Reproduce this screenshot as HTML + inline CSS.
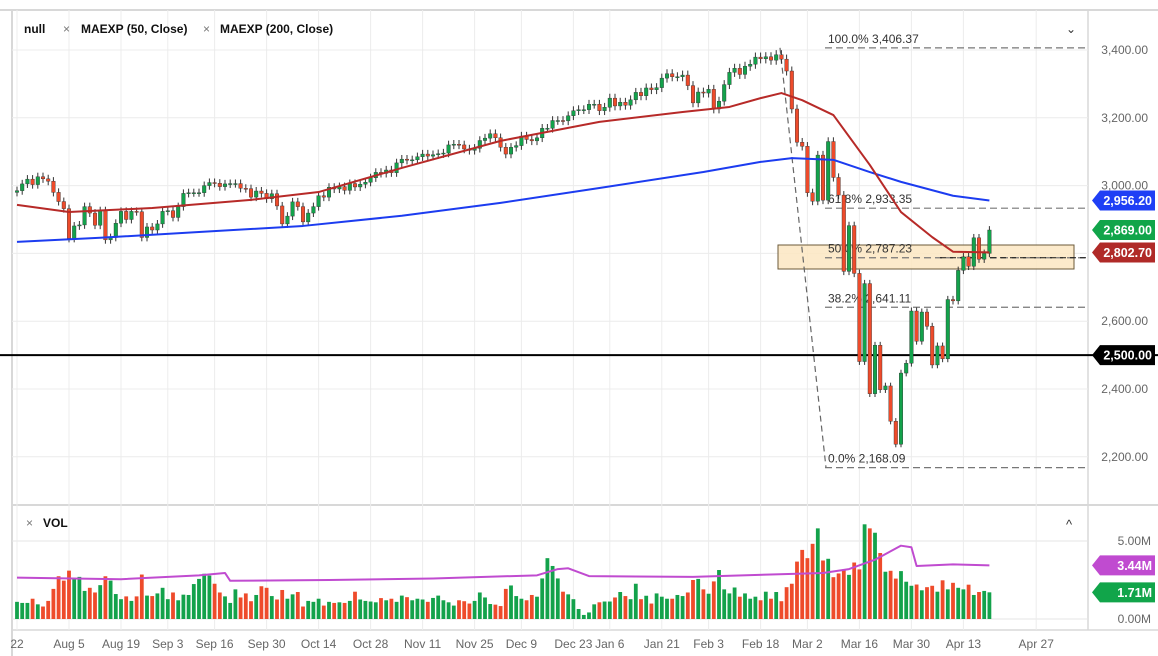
<!DOCTYPE html>
<html><head><meta charset="utf-8">
<style>
body{margin:0;background:#fff;font-family:"Liberation Sans",sans-serif;}
svg{display:block}
</style></head>
<body>
<svg id="chart" width="1158" height="656" xmlns="http://www.w3.org/2000/svg" font-family="Liberation Sans, sans-serif">
  <rect x="0" y="0" width="1158" height="656" fill="#fff"/>
  <g id="grid"></g>
  <g id="fib"></g>
  <g id="candles"></g>
  <g id="mas"></g>
  <g id="vol"></g>
  <g id="axes"></g>
  <g id="legend">
    <text x="24" y="33" font-size="12" font-weight="bold" fill="#111">null</text>
    <text x="63" y="33" font-size="12" fill="#777">×</text>
    <text x="81" y="33" font-size="12" font-weight="bold" fill="#111">MAEXP (50, Close)</text>
    <text x="203" y="33" font-size="12" fill="#777">×</text>
    <text x="220" y="33" font-size="12" font-weight="bold" fill="#111">MAEXP (200, Close)</text>
    <text x="1066" y="33" font-size="12" fill="#333">⌄</text>
    <text x="26" y="527" font-size="12" fill="#777">×</text>
    <text x="43" y="527" font-size="12" font-weight="bold" fill="#111">VOL</text>
    <text x="1066" y="529" font-size="13" fill="#333">^</text>
  </g>
</svg>
<script>
const closes=[2985,3005,3019,3003,3026, 3020,3013,2980,2953,2932, 2844,2881,2884,2938,2919, 2883,2926,2840,2847,2889,
2924,2900,2924,2923,2847, 2878,2869,2887,2924,2926, 2906,2938,2977,2979, 2979,2979,3000,3009,3007,
2997,3005,3006,3006,2992, 2991,2966,2984,2977,2961, 2976,2940,2887,2910,2952, 2938,2893,2919,2938,2970,
2966,2995,2990,2997,2986, 3006,2996,3004,3010,3023, 3039,3036,3046,3038,3067, 3078,3075,3076,3085,3093,
3087,3091,3094,3096,3120, 3122,3120,3108,3104,3110, 3133,3140,3153,3141, 3113,3093,3113,3118,3146,
3136,3132,3141,3169,3169, 3192,3192,3191,3206,3221, 3224,3224,3240,3240, 3221,3231,3258,3235,
3246,3237,3253,3275,3265, 3288,3283,3289,3317,3330, 3321,3321,3326,3295, 3244,3276,3273,3284,3226,
3249,3298,3334,3346,3328, 3352,3358,3379,3374,3380, 3370,3386,3373,3338, 3226,3128,3116,2979,2954,
3090,2957,3130,3024,2972, 2747,2882,2741,2481,2711, 2386,2529,2398,2409,2305, 2237,2447,2476,2630,2541,
2627,2585,2471,2527,2489, 2664,2660,2750,2790, 2762,2846,2783,2800,2869];
const volumes=[1.1,1.03,1.03,1.3,0.94,0.8,1.16,1.93,2.74,2.46,3.1,2.6,2.7,1.8,2.0,1.7,2.17,2.74,2.46,1.6,
1.27,1.45,1.16,1.45,2.85,1.5,1.47,1.64,2.0,1.27,1.7,1.2,1.56,1.54,2.24,2.57,2.9,2.78,2.26,1.7,
1.45,1.03,1.9,1.38,1.64,1.14,1.54,2.1,2.0,1.47,1.25,1.86,1.3,1.58,1.73,0.8,1.16,1.1,1.3,0.86,
1.1,1.03,1.07,1.03,1.16,1.75,1.25,1.16,1.12,1.07,1.34,
1.2,1.3,1.1,1.5,1.4,1.2,1.3,1.25,1.1,1.35,1.5,1.2,
1.07,0.86,1.2,1.14,0.99,1.16,1.7,1.38,0.96,
0.92,0.83,1.93,2.15,1.47,1.3,1.2,1.54,1.43,2.6,3.9,3.4,2.6,1.75,1.58,1.27,0.64,0.26,0.42,0.94,
1.07,1.12,1.12,1.38,1.73,1.47,1.27,2.26,1.27,1.49,0.99,1.64,
1.43,1.3,1.3,1.54,1.47,1.7,2.5,2.57,1.9,1.62,2.41,3.14,1.9,1.64,2.02,1.43,
1.64,1.3,1.43,1.2,1.75,1.3,1.73,1.14,2.04,2.26,3.68,4.43,3.9,4.82,5.81,3.75,3.86,2.68,2.92,3.18,
2.83,3.62,3.18,6.07,5.81,5.53,4.23,3.03,3.09,2.59,3.07,2.39,2.13,2.21,1.84,2.04,2.13,1.75,2.48,1.9,
2.32,2.0,1.9,2.2,1.54,1.73,1.8,1.71];
const ema50Idx=[0,10,26,45,58,74,93,112,128,137,143,147,151,157,164,170,176,180,187];
const ema50Val=[2943,2922,2934,2958,2981,3052,3132,3188,3217,3232,3258,3273,3252,3208,3061,2922,2848,2805,2803];
const ema200Idx=[0,16,35,55,74,93,112,132,143,149,157,164,170,180,187];
const ema200Val=[2834,2846,2863,2881,2911,2949,2993,3040,3070,3081,3076,3040,3011,2970,2956];
const volAvgIdx=[0,20,35,40,41,60,80,100,104,106,110,130,150,155,160,165,170,172,173,180,187];
const volAvgVal=[2.65,2.55,2.8,2.95,2.45,2.5,2.6,2.8,3.2,3.25,2.75,2.7,2.9,2.95,3.2,3.8,4.7,4.6,3.4,3.5,3.44];
const priceTicks=[3400,3200,3000,2800,2600,2400,2200];
const volTicks=[5,0];
const dateLabels=["22","Aug 5","Aug 19","Sep 3","Sep 16","Sep 30","Oct 14","Oct 28","Nov 11","Nov 25","Dec 9","Dec 23","Jan 6","Jan 21","Feb 3","Feb 18","Mar 2","Mar 16","Mar 30","Apr 13","Apr 27"];
const dateIdx=[0,10,20,29,38,48,58,68,78,88,97,107,114,124,133,143,152,162,172,182,196];
const fibLevels=[100,61.8,50,38.2,0];
const fibPrices=[3406.37,2933.35,2787.23,2641.11,2168.09];

const NS="http://www.w3.org/2000/svg";
const X=i=>17+i*5.2;
const Y=p=>50+(3400-p)*(67.8/200);
const VY=v=>619-v*15.6;
const L=1088;
function mk(tag,attrs,parent){const e=document.createElementNS(NS,tag);for(const k in attrs)e.setAttribute(k,attrs[k]);parent.appendChild(e);return e;}
const grid=document.getElementById('grid'),fib=document.getElementById('fib'),cg=document.getElementById('candles'),
mas=document.getElementById('mas'),vol=document.getElementById('vol'),axes=document.getElementById('axes');

mk('line',{x1:0,y1:10,x2:1158,y2:10,stroke:'#d8d8d8','stroke-width':2},grid);
mk('line',{x1:12,y1:10,x2:12,y2:656,stroke:'#d8d8d8','stroke-width':2},grid);
mk('line',{x1:12,y1:505,x2:1158,y2:505,stroke:'#d8d8d8','stroke-width':2},grid);
mk('line',{x1:12,y1:630,x2:1158,y2:630,stroke:'#d8d8d8','stroke-width':1.5},grid);
mk('line',{x1:L,y1:10,x2:L,y2:630,stroke:'#d8d8d8','stroke-width':1.5},grid);
priceTicks.forEach(p=>{
  const l=mk('line',{x1:12,y1:Y(p),x2:L,y2:Y(p),stroke:'#ececec','stroke-width':1},grid);
  
  
  const t=mk('text',{x:1148,y:Y(p)+4,'font-size':12,fill:'#666','text-anchor':'end'},axes);
  t.textContent=p.toLocaleString('en-US',{minimumFractionDigits:2});
  
  
});
volTicks.forEach(v=>{
  mk('line',{x1:12,y1:VY(v),x2:L,y2:VY(v),stroke:'#e4e4e4','stroke-width':1},grid);
  const t=mk('text',{x:1151,y:VY(v)+4,'font-size':12,fill:'#666','text-anchor':'end'},axes);
  t.textContent=v.toFixed(2)+'M';
  
  
});
dateIdx.forEach((d,k)=>{
  const l=mk('line',{x1:X(d),y1:10,x2:X(d),y2:630,stroke:'#ececec','stroke-width':1},grid);
  
  
  const t=mk('text',{x:X(d),y:648,'font-size':12,fill:'#666','text-anchor':'middle'},axes);
  t.textContent=dateLabels[k];
  
  
});
const box=mk('rect',{x:778,y:245,width:296,height:24,fill:'#fbe6c2','fill-opacity':0.85,stroke:'#6b5a3a','stroke-width':1},fib);


const diag=mk('line',{x1:780,y1:Y(3406.37),x2:826,y2:Y(2168.09),stroke:'#666','stroke-dasharray':'6,4','stroke-width':1.2},fib);


fibLevels.forEach((lv,k)=>{
  const y=Y(fibPrices[k]);
  const l=mk('line',{x1:825,y1:y,x2:L,y2:y,stroke:'#777','stroke-dasharray':'7,4','stroke-width':1.2},fib);
  
  
  const t=mk('text',{x:828,y:y-5,'font-size':12,fill:'#333'},fib);
  t.textContent=lv.toFixed(1)+'% '+fibPrices[k].toLocaleString('en-US',{minimumFractionDigits:2});
  
  
});
const h=mk('line',{x1:0,y1:Y(2500),x2:1158,y2:Y(2500),stroke:'#000','stroke-width':2},fib);


mk('line',{x1:940,y1:Y(2787.23),x2:L,y2:Y(2787.23),stroke:'#111','stroke-dasharray':'6,4','stroke-width':1},fib);

const G='#13a24b',R='#ee4b2b';
closes.forEach((c,i)=>{
  const o=i?closes[i-1]:c-5;
  const hi=Math.max(o,c)*1.004, lo=Math.min(o,c)*0.996;
  const x=X(i), col=c>=o?G:R;
  const w=mk('line',{x1:x,y1:Y(hi),x2:x,y2:Y(lo),stroke:'#333','stroke-width':1},cg);
  
  
  const top=Y(Math.max(o,c)), bh=Math.max(1,Y(Math.min(o,c))-top);
  const b=mk('rect',{x:x-1.8,y:top,width:3.6,height:bh,fill:col,stroke:'#333','stroke-width':0.4},cg);
  
  
  const v=volumes[i]||0;
  const vb=mk('rect',{x:x-1.9,y:VY(v),width:3.8,height:v*15.6,fill:col},vol);
  
  
});
function poly(idx,val,fy,col,w,name,parent){
  const p=mk('polyline',{points:idx.map((d,k)=>X(d)+','+fy(val[k])).join(' '),fill:'none',stroke:col,'stroke-width':w,'stroke-linejoin':'round'},parent);
  
  
}
poly(ema200Idx,ema200Val,Y,'#1c3cf0',2,'ema-200-line',mas);
poly(ema50Idx,ema50Val,Y,'#b72a28',2,'ema-50-line',mas);
poly(volAvgIdx,volAvgVal,VY,'#c04bd0',2,'volume-average-line',vol);

function tag(y,txt,col,name){
  const g=mk('g',{},axes);
  
  
  mk('path',{d:`M1092 ${y} L1100 ${y-10} L1155 ${y-10} L1155 ${y+10} L1100 ${y+10} Z`,fill:col},g);
  const t=mk('text',{x:1152,y:y+4.5,'font-size':12.5,'font-weight':'bold',fill:'#fff','text-anchor':'end'},g);
  t.textContent=txt;
}
tag(Y(2956.2),'2,956.20','#1f3ff5','ema200-price-tag');
tag(Y(2869),'2,869.00','#11a54a','last-price-tag');
tag(Y(2802.7),'2,802.70','#b02a28','ema50-price-tag');
tag(Y(2500),'2,500.00','#000','line-2500-tag');
tag(VY(3.44),'3.44M','#c04bd0','volume-average-tag');
tag(VY(1.71),'1.71M','#11a54a','volume-last-tag');
</script>
</body></html>
